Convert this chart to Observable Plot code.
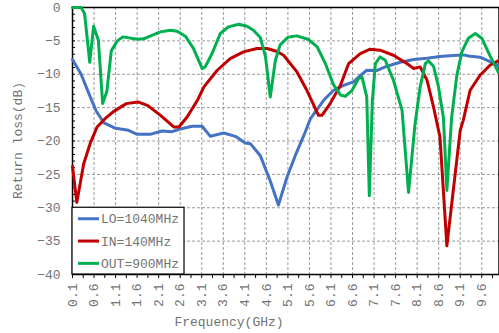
<!DOCTYPE html>
<html>
<head>
<meta charset="utf-8">
<script src="https://cdn.jsdelivr.net/npm/d3@7"></script>
<script src="https://cdn.jsdelivr.net/npm/@observablehq/plot@0.6"></script>
<style>
  html, body { margin: 0; padding: 0; background: #fff; }
  #chart svg { display: block; }
</style>
</head>
<body>
<div id="chart"></div>
<script>
// Return loss of the mixer ports versus frequency
const seriesNames = ["LO=1040MHz", "IN=140MHz", "OUT=900MHz"];
const seriesColors = ["#4472C4", "#C00000", "#00B050"];

const loFreq = [0.1, 0.3, 0.5, 0.65, 0.83, 1.1, 1.4, 1.6, 1.9, 2.18, 2.41, 2.6, 2.88, 3.11, 3.3, 3.61, 3.88, 4.11, 4.23, 4.46, 4.69, 4.88, 5.08, 5.27, 5.5, 5.62, 5.93, 6.16, 6.38, 6.62, 6.78, 6.93, 7.16, 7.4, 7.71, 8.02, 8.33, 8.63, 8.94, 9.17, 9.33, 9.56, 9.79, 9.98];
const loLoss = [-7.8, -10.0, -13.2, -15.5, -17.3, -18.1, -18.4, -19.0, -19.0, -18.5, -18.6, -18.2, -17.8, -17.8, -19.3, -18.8, -19.3, -20.3, -20.4, -22.2, -26.0, -29.6, -25.4, -22.2, -18.7, -16.7, -13.9, -12.4, -11.7, -11.15, -10.2, -9.4, -9.45, -8.8, -8.2, -7.8, -7.6, -7.35, -7.2, -7.1, -7.3, -7.45, -8.1, -8.7];

const inFreq = [0.1, 0.2, 0.36, 0.52, 0.67, 0.85, 1.05, 1.35, 1.62, 1.85, 2.15, 2.45, 2.57, 2.76, 3.0, 3.15, 3.46, 3.76, 4.07, 4.38, 4.62, 4.85, 5.0, 5.31, 5.54, 5.81, 5.89, 6.08, 6.32, 6.51, 6.78, 7.01, 7.24, 7.55, 7.86, 8.02, 8.17, 8.33, 8.48, 8.63, 8.79, 9.1, 9.17, 9.33, 9.56, 9.79, 9.98];
const inLoss = [-23.8, -29.2, -23.4, -20.2, -17.9, -16.7, -15.6, -14.4, -14.15, -14.7, -16.2, -17.9, -17.9, -16.4, -13.9, -11.9, -9.4, -7.65, -6.65, -6.15, -6.15, -6.6, -7.15, -9.65, -12.4, -16.15, -16.15, -14.4, -11.65, -8.4, -6.9, -6.25, -6.4, -7.15, -8.4, -9.15, -8.9, -10.9, -14.9, -19.4, -35.7, -18.4, -16.9, -12.4, -10.15, -8.65, -8.0];

const outFreq = [0.1, 0.3, 0.38, 0.5, 0.59, 0.7, 0.8, 0.9, 1.0, 1.14, 1.27, 1.6, 1.75, 2.14, 2.37, 2.53, 2.72, 2.91, 3.11, 3.18, 3.34, 3.53, 3.72, 3.96, 4.15, 4.3, 4.46, 4.58, 4.69, 4.81, 4.92, 5.1, 5.31, 5.58, 5.78, 5.97, 6.16, 6.32, 6.43, 6.59, 6.74, 6.82, 6.93, 6.99, 7.06, 7.13, 7.24, 7.36, 7.55, 7.75, 7.9, 8.05, 8.17, 8.29, 8.36, 8.48, 8.59, 8.71, 8.79, 8.9, 9.02, 9.14, 9.29, 9.45, 9.6, 9.79, 9.98];
const outLoss = [0, 0, -0.9, -8.2, -2.8, -4.9, -14.4, -12.5, -6.5, -5.0, -4.4, -4.75, -4.7, -3.65, -3.4, -3.55, -4.3, -6.15, -9.15, -8.9, -6.9, -3.9, -2.9, -2.5, -2.8, -3.4, -4.5, -7.4, -13.4, -7.9, -5.6, -4.45, -4.25, -4.8, -5.9, -8.4, -11.6, -13.1, -13.3, -12.4, -10.65, -10.4, -13.4, -28.2, -14.0, -8.4, -7.4, -7.9, -10.9, -15.4, -27.7, -17.5, -11.9, -8.4, -8.0, -8.8, -11.7, -16.5, -27.4, -16.5, -10.2, -6.6, -4.6, -3.9, -4.6, -7.2, -9.65];

const xTickValues = [0.1, 0.6, 1.1, 1.6, 2.1, 2.6, 3.1, 3.6, 4.1, 4.6, 5.1, 5.6, 6.1, 6.6, 7.1, 7.6, 8.1, 8.6, 9.1, 9.6];
const yTickValues = [0, -5, -10, -15, -20, -25, -30, -35, -40];
const xMinorTicks = d3.range(0, 40).map(i => 0.1 + i * 0.25);
const yMinorTicks = d3.range(-40, 1, 1);

const toRows = (freq, loss, name) => freq.map((f, i) => ({freq: f, loss: loss[i], name}));
const rows = [
  ...toRows(loFreq, loLoss, seriesNames[0]),
  ...toRows(inFreq, inLoss, seriesNames[1]),
  ...toRows(outFreq, outLoss, seriesNames[2])
];

const FONT = "Liberation Mono";
const TEXT_GRAY = "#737373";

const plot = Plot.plot({
  width: 499,
  height: 333,
  marginLeft: 72,
  marginRight: 0.5,
  marginTop: 7,
  marginBottom: 59,
  style: {fontFamily: FONT, fontSize: "13px", background: "#fff", overflow: "visible"},
  x: {domain: [0.1, 10]},
  y: {domain: [-40, 0]},
  color: {domain: seriesNames, range: seriesColors},
  marks: [
    Plot.gridX({ticks: xTickValues, stroke: "#9a9a9a", strokeOpacity: 1, strokeDasharray: "3,2"}),
    Plot.gridY({ticks: yTickValues, stroke: "#9a9a9a", strokeOpacity: 1, strokeDasharray: "3,2"}),
    Plot.frame({stroke: "black", strokeWidth: 1.5}),
    // minor ticks
    Plot.axisX({ticks: xMinorTicks, tickSize: 4, text: null, label: null, stroke: "black"}),
    Plot.axisY({ticks: yMinorTicks, tickSize: -3, text: null, label: null, stroke: "black"}),
    // labelled ticks
    Plot.axisX({ticks: xTickValues, tickSize: 0, tickPadding: 9, tickRotate: -90,
      tickFormat: d => d.toFixed(1), label: null, fill: TEXT_GRAY}),
    Plot.axisY({ticks: yTickValues, tickSize: 0, tickPadding: 12,
      tickFormat: d => d === 0 ? "0" : "−" + Math.abs(d), label: null, fill: TEXT_GRAY}),
    Plot.line(rows, {x: "freq", y: "loss", z: "name", stroke: "name", strokeWidth: 3, strokeLinejoin: "round"})
  ]
});

document.getElementById("chart").appendChild(plot);

// axis titles and legend, placed from the plot's scales
const svg = d3.select(plot);
const sx = plot.scale("x"), sy = plot.scale("y");
const [x0, x1] = sx.range, [y0, y1] = sy.range; // y0 bottom, y1 top

svg.append("text")
  .attr("x", x0 + 157)
  .attr("y", 326)
  .attr("text-anchor", "middle")
  .attr("fill", TEXT_GRAY)
  .style("font-family", FONT).style("font-size", "13px")
  .text("Frequency(GHz)");

svg.append("text")
  .attr("transform", `translate(22,${(y0 + y1) / 2}) rotate(-90)`)
  .attr("text-anchor", "middle")
  .attr("fill", TEXT_GRAY)
  .style("font-family", FONT).style("font-size", "13px")
  .text("Return loss(dB)");

const legendTop = sy.apply(-30);
const legendRight = sx.apply(2.7);
const legend = svg.append("g");
legend.append("rect")
  .attr("x", x0).attr("y", legendTop)
  .attr("width", legendRight - x0).attr("height", y0 - legendTop)
  .attr("fill", "#fff").attr("stroke", "black").attr("stroke-width", 1.2);
seriesNames.forEach((name, i) => {
  const cy = legendTop + 11.5 + i * 22.3;
  legend.append("line")
    .attr("x1", x0 + 6).attr("x2", x0 + 27)
    .attr("y1", cy).attr("y2", cy)
    .attr("stroke", seriesColors[i]).attr("stroke-width", 3);
  legend.append("text")
    .attr("x", x0 + 29).attr("y", cy).attr("dy", "0.35em")
    .attr("text-anchor", "start")
    .attr("fill", TEXT_GRAY)
    .style("font-family", FONT).style("font-size", "13px")
    .text(name);
});
</script>
</body>
</html>
